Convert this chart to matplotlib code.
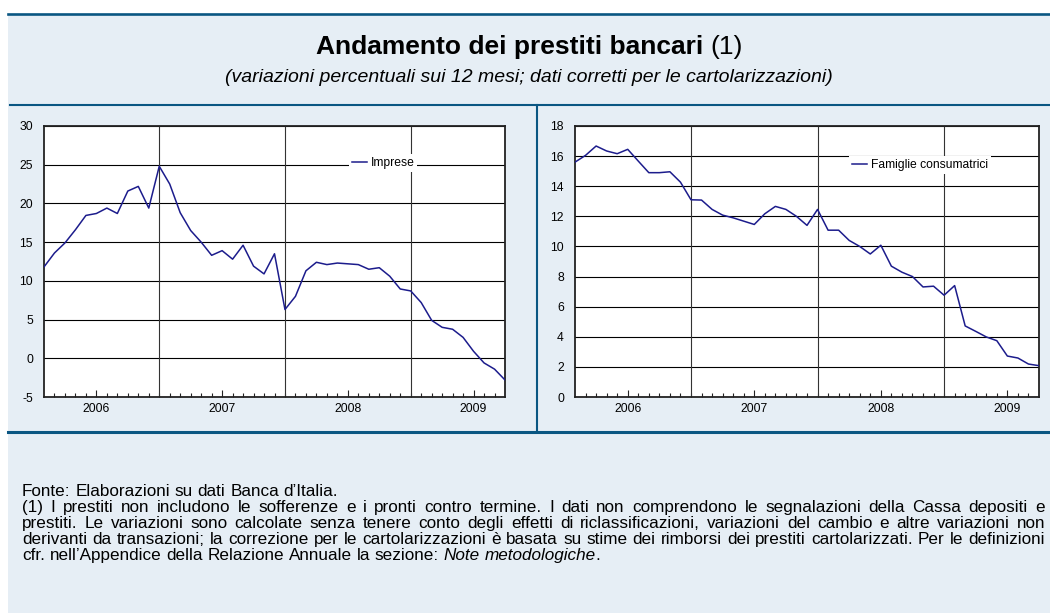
import matplotlib
matplotlib.use('Agg')
import matplotlib.pyplot as plt
from matplotlib.lines import Line2D
from matplotlib.patches import Rectangle
import numpy as np
import pandas as pd

plt.rcParams['font.family'] = ['Liberation Sans', 'DejaVu Sans']
plt.rcParams['axes.unicode_minus'] = False

# mesi gen 2006 - set 2009
mesi = pd.date_range('2006-01-01', '2009-09-01', freq='MS')
anni = ['2006', '2007', '2008', '2009']

imprese = [11.8, 13.6, 14.9, 16.6, 18.45, 18.7, 19.4, 18.7, 21.6, 22.2, 19.4, 24.8,
           22.5, 18.8, 16.5, 15.0, 13.3, 13.9, 12.8, 14.6, 11.9, 10.9, 13.5, 6.3,
           8.0, 11.3, 12.4, 12.1, 12.3, 12.2, 12.1, 11.5, 11.7, 10.6, 8.95, 8.7,
           7.2, 4.9, 4.0, 3.75, 2.7, 0.9, -0.6, -1.4, -2.8]
famiglie = [15.6, 16.05, 16.67, 16.34, 16.16, 16.45, 15.67, 14.9, 14.9, 14.96, 14.27, 13.1,
            13.08, 12.46, 12.08, 11.9, 11.68, 11.46, 12.17, 12.66, 12.46, 12.0, 11.4, 12.46,
            11.08, 11.08, 10.4, 10.0, 9.5, 10.08, 8.69, 8.29, 8.0, 7.31, 7.36, 6.76,
            7.4, 4.72, 4.36, 3.99, 3.74, 2.72, 2.59, 2.19, 2.08]

titolo = 'Andamento dei prestiti bancari'
titolo_nota = '(1)'
sottotitolo = '(variazioni percentuali sui 12 mesi; dati corretti per le cartolarizzazioni)'
fonte = 'Fonte: Elaborazioni su dati Banca d\u2019Italia.'
nota_righe = [
    '(1) I prestiti non includono le sofferenze e i pronti contro termine. I dati non comprendono le segnalazioni della Cassa depositi e',
    'prestiti. Le variazioni sono calcolate senza tenere conto degli effetti di riclassificazioni, variazioni del cambio e altre variazioni non',
    'derivanti da transazioni; la correzione per le cartolarizzazioni \u00e8 basata su stime dei rimborsi dei prestiti cartolarizzati. Per le definizioni',
]
nota_fine = 'cfr. nell\u2019Appendice della Relazione Annuale la sezione:'
nota_corsivo = 'Note metodologiche'

W, H = 1050, 613
BLU = '#0a5682'
SFONDO = '#e6eef5'
LINEA = '#1c1c8c'


def fx(x):
    return x / W


def fy(y):
    return 1 - y / H


fig = plt.figure(figsize=(W / 100, H / 100), dpi=100)
fig.patch.set_facecolor('white')
fig.patches.append(Rectangle((fx(8), 0), fx(W - 8), fy(15), transform=fig.transFigure,
                             facecolor=SFONDO, edgecolor='none', zorder=-5))
for xs, ys, lw in [([8, W], [14, 14], 1.9), ([10, W], [105, 105], 1.5),
                   ([8, W], [432, 432], 2.2), ([537, 537], [105, 432], 1.5)]:
    fig.lines.append(Line2D([fx(v) for v in xs], [fy(v) for v in ys],
                            transform=fig.transFigure, color=BLU, lw=lw, zorder=-4))


def pannello(left, width, valori, etichetta, yticks, leg_pos):
    ax = fig.add_axes([fx(left), fy(397), fx(width), (397 - 126) / H])
    x = np.arange(len(mesi))
    ax.plot(x, valori, color=LINEA, lw=1.1, label=etichetta, zorder=3)
    ax.set_xlim(0, len(mesi) - 1)
    ax.set_ylim(yticks[0], yticks[-1])
    ax.set_yticks(yticks)
    ax.set_yticklabels([str(v) for v in yticks])
    ax.yaxis.grid(True, color='black', lw=0.8)
    ax.set_axisbelow(True)
    for i in x[mesi.month == 12]:
        ax.axvline(i, color='#333333', lw=0.8, zorder=1)
    ax.set_xticks(x[mesi.month == 6])
    ax.set_xticklabels(anni)
    ax.set_xticks(x[1:-1], minor=True)
    ax.tick_params(axis='x', which='major', direction='in', length=5, width=0.8, pad=4,
                   labelsize=8.7, color='#222222')
    ax.tick_params(axis='x', which='minor', direction='in', length=3, width=0.8, color='#222222')
    ax.tick_params(axis='y', length=0, pad=8, labelsize=8.7)
    for s in ax.spines.values():
        s.set_color('#222222')
        s.set_linewidth(1.3)
    ax.legend(loc='center left', bbox_to_anchor=leg_pos, frameon=True, facecolor='white',
              edgecolor='none', framealpha=1, fancybox=False, handlelength=1.25,
              handletextpad=0.3, borderpad=0.25, borderaxespad=0, fontsize=8.7)
    return ax


pannello(44, 461, imprese, 'Imprese', list(range(-5, 31, 5)), (0.661, 0.862))
pannello(575, 464, famiglie, 'Famiglie consumatrici', list(range(0, 19, 2)), (0.59, 0.855))

r = fig.canvas.get_renderer()


def larghezza(t):
    return t.get_window_extent(r).width


def larghezza_testo(testo, fs, **kw):
    t = fig.text(0, 0, testo, fontsize=fs, **kw)
    w = larghezza(t)
    t.remove()
    return w


def spazio(fs):
    return larghezza_testo('a a', fs) - larghezza_testo('aa', fs)


# titolo: parte in grassetto + nota in tondo, centrati insieme
FS_T = 19
XC = 529
t1 = fig.text(0, fy(47), titolo, fontsize=FS_T, fontweight='bold', va='center', ha='left')
t2 = fig.text(0, fy(47), titolo_nota, fontsize=FS_T, va='center', ha='left')
sp_t = spazio(FS_T)
tot = larghezza(t1) + sp_t + larghezza(t2)
x0 = XC - tot / 2
t1.set_x(fx(x0))
t2.set_x(fx(x0 + larghezza(t1) + sp_t))

fig.text(fx(XC), fy(78), sottotitolo, fontsize=14, style='italic', ha='center', va='center')

# note a piè di figura, giustificate; corpo scelto perché la riga più lunga entri
X0, X1 = 22, 1045
FS_NOTE = 10 * (X1 - X0 - 6) / max(larghezza_testo(t, 10) for t in nota_righe)
SP = spazio(FS_NOTE)


def riga(parole, y, giustifica):
    testi = [fig.text(0, fy(y), p, fontsize=FS_NOTE, style=s, va='baseline', ha='left')
             for p, s, _ in parole]
    larg = [larghezza(t) for t in testi]
    n_spazi = sum(1 for _, _, attacca in parole[1:] if not attacca)
    if giustifica and n_spazi:
        gap = (X1 - X0 - sum(larg)) / n_spazi
    else:
        gap = SP
    x = X0
    for k, (t, w) in enumerate(zip(testi, larg)):
        if k > 0 and not parole[k][2]:
            x += gap
        t.set_x(fx(x))
        x += w


base = 496
riga([(p, 'normal', False) for p in fonte.split()], base, False)
for k, testo in enumerate(nota_righe):
    riga([(p, 'normal', False) for p in testo.split()], base + 16 * (k + 1), True)
ultima = [(p, 'normal', False) for p in nota_fine.split()]
ultima += [(p, 'italic', False) for p in nota_corsivo.split()]
ultima += [('.', 'normal', True)]
riga(ultima, base + 16 * 4, False)

fig.savefig('out.png', dpi=100, facecolor=fig.get_facecolor())
